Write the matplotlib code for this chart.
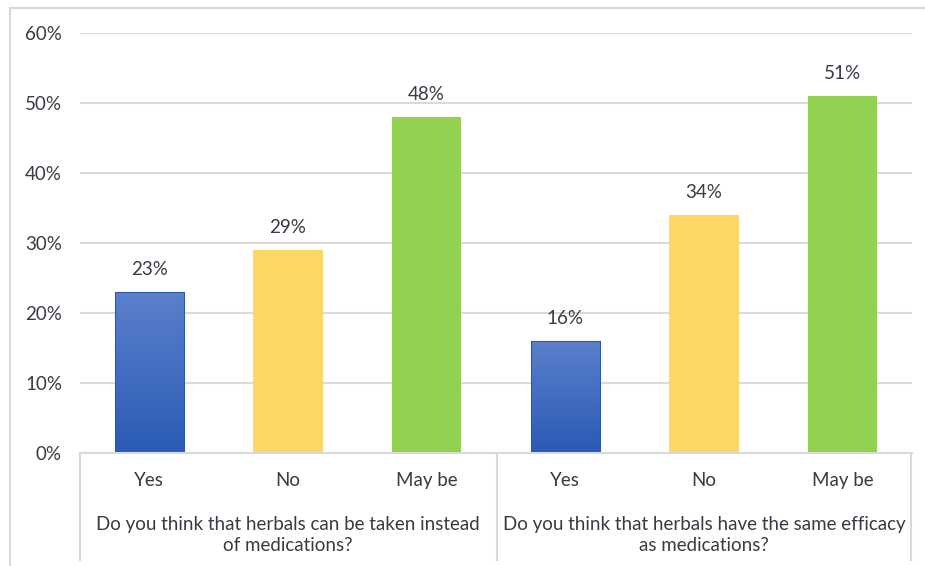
import numpy as np
import matplotlib.pyplot as plt
from matplotlib.lines import Line2D
from matplotlib.colors import LinearSegmentedColormap

plt.rcParams['font.family'] = ['Lato', 'DejaVu Sans']

answers = ['Yes', 'No', 'May be']
questions = ['Do you think that herbals can be taken instead\nof medications?',
             'Do you think that herbals have the same efficacy\nas medications?']
q1_values = [23, 29, 48]
q2_values = [16, 34, 51]
yticks = [0, 10, 20, 30, 40, 50, 60]

text_col = '#3a3a44'
grid_col = '#d9d9d9'
yellow = '#fdd766'
green = '#92d050'
fs = 13.5

fig = plt.figure(figsize=(9.25, 5.66), dpi=100)
ax = fig.add_axes([80/925, 1 - 453/566, 832/925, 420/566])

values = q1_values + q2_values
x = np.arange(len(values))

# blue bars get a vertical gradient, the rest are flat
blue_grad = np.linspace(0, 1, 256).reshape(-1, 1)
blue_cmap = LinearSegmentedColormap.from_list('b', ['#2a5ab5', '#5b80cc'])

for i, v in enumerate(values):
    kind = i % 3
    if kind == 0:
        bar = ax.bar(x[i], v, width=0.5, color='none', edgecolor='#2f5aa8',
                     linewidth=0.8, zorder=3)[0]
        im = ax.imshow(blue_grad, cmap=blue_cmap, origin='lower', aspect='auto',
                       extent=(x[i] - 0.25, x[i] + 0.25, 0, v), zorder=2)
        im.set_clip_path(bar)
    else:
        ax.bar(x[i], v, width=0.5, color=yellow if kind == 1 else green, zorder=2)
    ax.text(x[i], v + 2.0, f'{v}%', ha='center', va='bottom', fontsize=fs,
            color=text_col)

ax.set_xlim(-0.5, len(values) - 0.5)
ax.set_ylim(0, 60)
ax.set_yticks(yticks)
ax.set_yticklabels([f'{t}%' for t in yticks], fontsize=fs, color=text_col)
ax.tick_params(axis='y', length=0, pad=13)
ax.set_xticks([])
ax.yaxis.grid(True, color=grid_col, linewidth=1.5)
ax.set_axisbelow(True)
for s in ax.spines.values():
    s.set_visible(False)

# multi-level category axis below the plot
for i, lab in enumerate(answers * 2):
    ax.text(x[i], -3.9, lab, ha='center', va='center', fontsize=fs,
            color=text_col, clip_on=False)
for g, q in enumerate(questions):
    ax.text(1 + 3 * g, -11.7, q, ha='center', va='center', fontsize=fs,
            color=text_col, linespacing=1.3, clip_on=False)

fig_lines = [
    ([80, 912], [453, 453]),
    ([80, 80], [453, 560]),
    ([497, 497], [453, 560]),
    ([911, 911], [453, 560]),
]
for xs, ys in fig_lines:
    fig.add_artist(Line2D([v / 925 for v in xs], [1 - v / 566 for v in ys],
                          color=grid_col, linewidth=1.5))

# chart frame
fig.add_artist(Line2D([10/925, 10/925], [0, 1 - 8/566], color=grid_col, linewidth=1.5))
fig.add_artist(Line2D([10/925, 1], [1 - 8/566, 1 - 8/566], color=grid_col, linewidth=1.5))

fig.savefig('out.png', dpi=100)
